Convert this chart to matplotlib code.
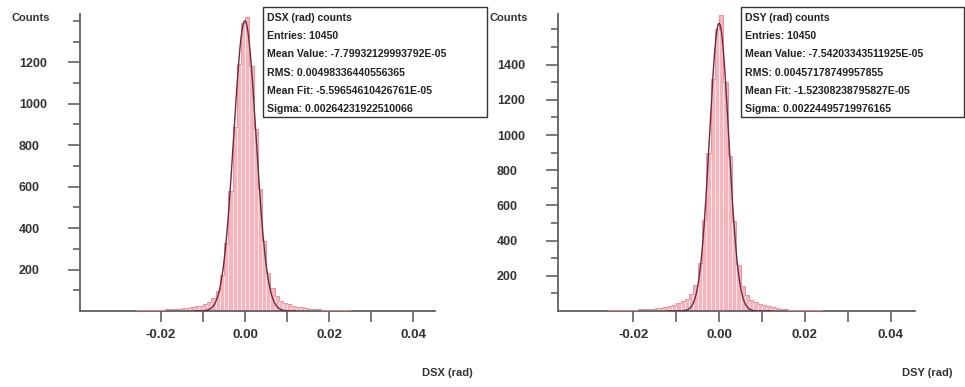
import numpy as np
import matplotlib
matplotlib.use("Agg")
import matplotlib.pyplot as plt

# bin edges: -0.03 .. 0.03, width 0.001 (60 bins)
edges = np.round(np.arange(-0.030, 0.0305, 0.001), 4)

dsx_counts = [1, 1, 2, 2, 3, 3, 4, 4, 5, 6,
              7, 8, 9, 10, 12, 14, 16, 19, 22, 26,
              35, 45, 62, 95, 175, 330, 580, 890, 1190, 1390,
              1420, 1180, 880, 590, 340, 185, 110, 70, 50, 40,
              32, 26, 21, 17, 14, 12, 10, 8, 7, 6,
              5, 4, 4, 3, 3, 2, 2, 2, 1, 1]

dsy_counts = [1, 1, 2, 2, 3, 3, 4, 5, 6, 7,
              8, 9, 10, 12, 14, 16, 19, 23, 28, 36,
              45, 55, 70, 95, 150, 270, 520, 900, 1320, 1600,
              1680, 1300, 880, 510, 260, 140, 90, 65, 50, 40,
              32, 26, 20, 16, 13, 10, 8, 7, 6, 5,
              4, 4, 3, 3, 2, 2, 2, 1, 1, 1]

# fit results shown in the stat boxes (amplitude)
dsx_fit = dict(amp=1400, mean=-5.59654610426761e-05, sigma=0.00264231922510066)
dsy_fit = dict(amp=1635, mean=-1.52308238795827e-05, sigma=0.00224495719976165)

dsx_stats = ["DSX (rad) counts", "Entries: 10450",
             "Mean Value: -7.79932129993792E-05", "RMS: 0.00498336440556365",
             "Mean Fit: -5.59654610426761E-05", "Sigma: 0.00264231922510066"]
dsy_stats = ["DSY (rad) counts", "Entries: 10450",
             "Mean Value: -7.54203343511925E-05", "RMS: 0.00457178749957855",
             "Mean Fit: -1.52308238795827E-05", "Sigma: 0.00224495719976165"]

W, H = 965, 387
fig = plt.figure(figsize=(W / 100, H / 100), dpi=100)
font = "Liberation Sans"
axcol = "#606060"


def panel(x0, x1, xlim, ylim, yticks, counts, fit, stats, xlabel, box):
    ax = fig.add_axes([x0 / W, 1 - 311 / H, (x1 - x0) / W, (311 - 14) / H])
    ax.set_xlim(*xlim)
    ax.set_ylim(*ylim)
    ax.bar(edges[:-1], counts, width=0.001, align="edge", color="#f7b4bc",
           edgecolor="#fff4f4", linewidth=0.5, zorder=2)
    ax.stairs(counts, edges, color="#e8848f", linewidth=0.6, zorder=3)
    xf = np.linspace(-0.012, 0.012, 300)
    yf = fit["amp"] * np.exp(-0.5 * ((xf - fit["mean"]) / fit["sigma"]) ** 2)
    ax.plot(xf, yf, color="#6a2a3a", linewidth=1.0, zorder=4)
    for s in ["top", "right"]:
        ax.spines[s].set_visible(False)
    for s in ["left", "bottom"]:
        ax.spines[s].set_color(axcol)
        ax.spines[s].set_linewidth(1.3)
    ax.set_yticks(yticks)
    ax.set_yticks(np.arange(100, ylim[1], 100), minor=True)
    ax.set_xticks([-0.02, 0.0, 0.02, 0.04])
    ax.set_xticklabels(["-0.02", "0.00", "0.02", "0.04"])
    ax.set_xticks([-0.01, 0.01, 0.03], minor=True)
    ax.tick_params(axis="y", which="major", length=9, width=1.2, color=axcol,
                   pad=35, labelsize=9)
    ax.tick_params(axis="y", which="minor", length=5, width=1.2, color=axcol)
    ax.tick_params(axis="x", which="both", length=8, width=1.2, color=axcol,
                   pad=5, labelsize=9.5)
    for lab in ax.get_yticklabels():
        lab.set_horizontalalignment("left")
        lab.set_fontfamily(font)
        lab.set_fontweight("bold")
        lab.set_color("#333333")
    for lab in ax.get_xticklabels():
        lab.set_fontfamily(font)
        lab.set_fontweight("bold")
        lab.set_color("#333333")
    fig.text((x0 - 68) / W, 1 - 18 / H, "Counts", family=font, weight="bold",
             fontsize=8, va="center", ha="left", color="#333333")
    fig.text((x1 - 13) / W, 1 - 373 / H, xlabel,
             family=font, weight="bold", fontsize=8, va="center", ha="left",
             color="#333333")
    bx0, bx1 = box
    fig.patches.append(plt.Rectangle((bx0 / W, 1 - 117 / H), (bx1 - bx0) / W,
                                     110 / H, transform=fig.transFigure,
                                     facecolor="white", edgecolor="#333333",
                                     linewidth=1.0, zorder=5))
    for i, line in enumerate(stats):
        fig.text((bx0 + 4) / W, 1 - (18 + 18.2 * i) / H, line, family=font,
                 weight="bold", fontsize=7.6, va="center", ha="left",
                 color="#222222", zorder=6)
    return ax


panel(80, 435, (-0.0393, 0.0452), (0, 1433), [200, 400, 600, 800, 1000, 1200],
      dsx_counts, dsx_fit, dsx_stats, "DSX (rad)", (263, 487))
panel(558, 915, (-0.0376, 0.0457), (0, 1688),
      [200, 400, 600, 800, 1000, 1200, 1400],
      dsy_counts, dsy_fit, dsy_stats, "DSY (rad)", (741, 964))

fig.savefig("out.png", dpi=100)
